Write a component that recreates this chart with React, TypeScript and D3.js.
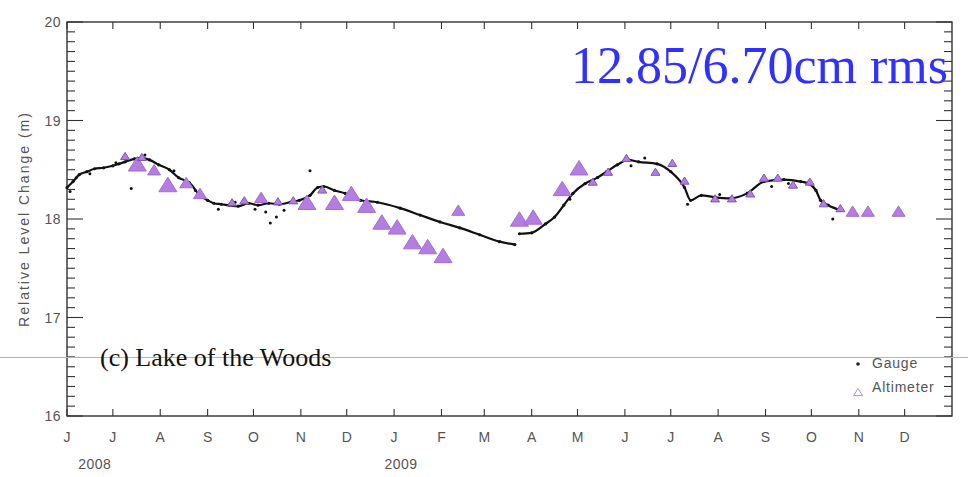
import React from "react";
import * as d3 from "d3";

// Gauge series (date, level m)
const gaugeDates = [
  "2008-06-01","2008-06-05","2008-06-09","2008-06-14","2008-06-19","2008-06-25","2008-07-01","2008-07-05","2008-07-09","2008-07-15","2008-07-20","2008-07-25","2008-07-31","2008-08-07","2008-08-13","2008-08-20","2008-08-27","2008-09-01","2008-09-05","2008-09-10","2008-09-15","2008-09-21","2008-09-28","2008-10-04","2008-10-11","2008-10-18","2008-10-25","2008-10-31","2008-11-07","2008-11-12","2008-11-16","2008-11-23","2008-11-30","2008-12-10","2008-12-21","2009-01-05","2009-01-18","2009-01-31","2009-02-13","2009-02-26","2009-03-11","2009-03-21",
  "2009-03-24","2009-04-01","2009-04-10","2009-04-16","2009-04-22","2009-04-28","2009-05-06","2009-05-14","2009-05-20","2009-05-27","2009-06-03","2009-06-10","2009-06-22","2009-07-01","2009-07-10","2009-07-14","2009-07-21","2009-07-30","2009-08-09","2009-08-20","2009-08-31","2009-09-13","2009-09-24","2009-09-29","2009-10-04","2009-10-07","2009-10-12","2009-10-20"
];
const gaugeValues = [
  18.32,18.38,18.45,18.48,18.51,18.52,18.54,18.56,18.58,18.61,18.62,18.60,18.55,18.50,18.42,18.37,18.24,18.19,18.16,18.15,18.14,18.13,18.16,18.14,18.16,18.15,18.17,18.19,18.24,18.32,18.33,18.29,18.26,18.19,18.17,18.11,18.04,17.97,17.91,17.84,17.77,17.74,
  17.85,17.86,17.95,18.02,18.14,18.26,18.36,18.42,18.48,18.55,18.60,18.58,18.56,18.48,18.32,18.19,18.24,18.22,18.21,18.26,18.38,18.40,18.38,18.36,18.29,18.19,18.14,18.09
];
// Scattered gauge readings away from the main trace
const gaugeOutlierDates = ["2008-06-03","2008-06-07","2008-06-16","2008-07-03","2008-07-13","2008-07-22","2008-08-10","2008-08-24","2008-09-08","2008-09-19","2008-10-02","2008-10-09","2008-10-12","2008-10-16","2008-10-21","2008-11-07","2009-04-26","2009-06-05","2009-06-14","2009-07-12","2009-08-02","2009-09-05","2009-09-16","2009-10-15"];
const gaugeOutlierValues = [18.28,18.42,18.46,18.57,18.31,18.65,18.49,18.29,18.10,18.17,18.10,18.07,17.96,18.02,18.09,18.49,18.20,18.54,18.62,18.15,18.25,18.33,18.36,18.00];

// Altimeter series (date, level m, marker size class)
const altDates = [
  "2008-07-09","2008-07-17","2008-07-20","2008-07-28","2008-08-06","2008-08-18","2008-08-27","2008-09-17","2008-09-25","2008-10-06","2008-10-17","2008-10-27","2008-11-05","2008-11-15","2008-11-23","2008-12-04","2008-12-14","2008-12-24","2009-01-03","2009-01-13","2009-01-23","2009-02-02","2009-02-12","2009-03-24","2009-04-02","2009-04-21","2009-05-02","2009-05-11","2009-05-21","2009-06-02","2009-06-21","2009-07-02","2009-07-10","2009-07-30","2009-08-10","2009-08-22","2009-08-31","2009-09-09","2009-09-19","2009-09-30","2009-10-09","2009-10-20","2009-10-28","2009-11-07","2009-11-27"
];
const altValues = [
  18.64,18.56,18.63,18.50,18.35,18.37,18.26,18.17,18.19,18.22,18.18,18.19,18.17,18.30,18.17,18.26,18.14,17.97,17.92,17.77,17.72,17.63,18.09,18.00,18.02,18.31,18.52,18.38,18.48,18.62,18.48,18.57,18.39,18.21,18.21,18.26,18.42,18.42,18.35,18.38,18.16,18.11,18.08,18.08,18.08
];
const altSizes = [
  1,3,1,2,3,2,2,1,1,2,1,1,3,1,3,3,3,3,3,3,3,3,2,3,3,3,3,1,1,1,1,1,1,1,1,1,1,1,1,1,1,1,2,2,2
];

const monthTickLabels = ["J","J","A","S","O","N","D","J","F","M","A","M","J","J","A","S","O","N","D"];
const yearLabels = ["2008","2009"];
const yTickValues = [16, 17, 18, 19, 20];

const W = 968, H = 477;
const L = 67, R = 952, T = 22, B = 416;

export default function App() {
  const parse = d3.timeParse("%Y-%m-%d");
  const x = d3.scaleTime().domain([new Date(2008, 5, 1), new Date(2010, 0, 1)]).range([L, R]);
  const y = d3.scaleLinear().domain([16, 20]).range([B, T]);
  const months = d3.timeMonth.range(new Date(2008, 5, 1), new Date(2010, 0, 1));
  const minor = d3.range(160, 201).map((v) => v / 10);

  const gauge = gaugeDates.map((d, i) => ({ d: parse(d)!, v: gaugeValues[i] }));
  const seg1 = gauge.slice(0, 42);
  const seg2 = gauge.slice(42);
  const line = d3.line<{ d: Date; v: number }>().x((p) => x(p.d)).y((p) => y(p.v)).curve(d3.curveMonotoneX);
  const sizePx = [0, 9, 13, 18];
  const tri = (cx: number, cy: number, s: number) => {
    const h = s * 0.8;
    return `M${cx},${cy - h / 2}L${cx + s / 2},${cy + h / 2}L${cx - s / 2},${cy + h / 2}Z`;
  };
  const sans = "'Liberation Sans', Arial, sans-serif";
  const serif = "'Liberation Serif', 'Times New Roman', serif";

  return (
    <svg width={W} height={H} style={{ position: "absolute", left: 0, top: 0, background: "#fff" }}>
      <rect x={0} y={0} width={W} height={H} fill="#fff" />
      {/* frame */}
      <rect x={L} y={T} width={R - L} height={B - T} fill="none" stroke="#222" strokeWidth={1.3} />
      {/* y ticks */}
      {minor.map((v, i) => {
        const major = Math.abs(v - Math.round(v)) < 1e-6;
        const len = major ? 16 : 8;
        return (
          <g key={"yt" + i} stroke="#333" strokeWidth={1.1}>
            <line x1={L} x2={L + len} y1={y(v)} y2={y(v)} />
            <line x1={R} x2={R - len} y1={y(v)} y2={y(v)} />
          </g>
        );
      })}
      {yTickValues.map((v) => (
        <text key={"yl" + v} x={61} y={y(v) + 5} textAnchor="end" fontFamily={sans} fontSize={14} letterSpacing={0.5} fill="#555">{v}</text>
      ))}
      {/* x ticks */}
      {months.map((m, i) => (
        <g key={"xt" + i} stroke="#333" strokeWidth={1.1}>
          <line x1={x(m)} x2={x(m)} y1={B} y2={B - 7} />
          <line x1={x(m)} x2={x(m)} y1={T} y2={T + 7} />
        </g>
      ))}
      {months.map((m, i) => (
        <text key={"xl" + i} x={x(m)} y={442} textAnchor="middle" fontFamily={sans} fontSize={14} fill="#555">{monthTickLabels[i]}</text>
      ))}
      <text x={x(new Date(2008, 6, 1)) - 18} y={469} textAnchor="middle" fontFamily={sans} fontSize={14} letterSpacing={0.5} fill="#555">{yearLabels[0]}</text>
      <text x={x(new Date(2009, 0, 1)) + 7} y={469} textAnchor="middle" fontFamily={sans} fontSize={14} letterSpacing={0.5} fill="#555">{yearLabels[1]}</text>
      <text transform={`translate(29,${(T + B) / 2}) rotate(-90)`} textAnchor="middle" fontFamily={sans} fontSize={14} letterSpacing={2} fill="#555">Relative Level Change (m)</text>

      {/* gauge */}
      <path d={line(seg1)!} fill="none" stroke="#111" strokeWidth={2.2} />
      <path d={line(seg2)!} fill="none" stroke="#111" strokeWidth={2.2} />
      {gauge.map((p, i) => (
        <circle key={"g" + i} cx={x(p.d)} cy={y(p.v)} r={1.6} fill="#111" />
      ))}
      {gaugeOutlierDates.map((d, i) => (
        <circle key={"go" + i} cx={x(parse(d)!)} cy={y(gaugeOutlierValues[i])} r={1.5} fill="#111" />
      ))}

      {/* altimeter */}
      {altDates.map((d, i) => {
        const s = sizePx[altSizes[i]];
        return (
          <path key={"a" + i} d={tri(x(parse(d)!), y(altValues[i]), s)} fill="#b47ee0" stroke={altSizes[i] === 1 ? "#7f55b8" : "#a36ed4"} strokeWidth={1} />
        );
      })}

      {/* annotations */}
      <text x={948} y={83} textAnchor="end" fontFamily={serif} fontSize={52} fill="#3030ff">12.85/6.70cm rms</text>
      <line x1={0} x2={W} y1={357.5} y2={357.5} stroke="#9fbad8" strokeWidth={1} />
      <text x={100} y={366} fontFamily={serif} fontSize={26} fill="#111">(c) Lake of the Woods</text>

      {/* legend */}
      <circle cx={858} cy={364} r={1.8} fill="#222" />
      <text x={872} y={368} fontFamily={sans} fontSize={14} letterSpacing={0.8} fill="#555">Gauge</text>
      <path d={tri(858, 392, 9)} fill="none" stroke="#b090e0" strokeWidth={1} />
      <text x={872} y={392} fontFamily={sans} fontSize={14} letterSpacing={0.8} fill="#555">Altimeter</text>
    </svg>
  );
}
